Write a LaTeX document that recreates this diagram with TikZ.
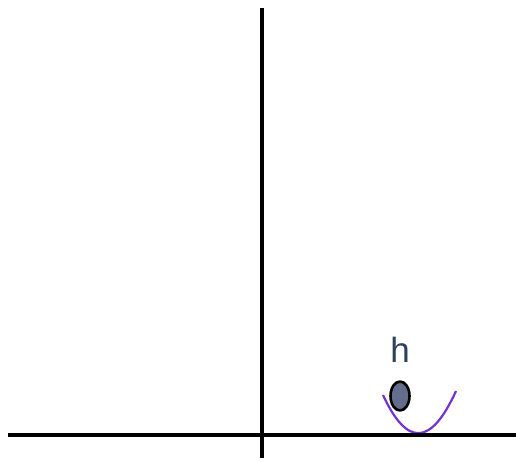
\documentclass[tikz,border=0pt]{standalone}
\usepackage{fontspec}
\setsansfont{Liberation Sans}
\usetikzlibrary{shapes.geometric}
\definecolor{curveviolet}{RGB}{115,50,210}
\definecolor{ballfill}{RGB}{100,110,140}
\definecolor{labelblue}{RGB}{45,65,95}

\begin{document}
\begin{tikzpicture}[x=1pt, y=-1pt, line cap=butt, line join=round]

  %% ==== axes ====
  \coordinate (ytop) at (262,8);
  \coordinate (ybot) at (262,458);
  \coordinate (xleft) at (8,435);
  \coordinate (xright) at (516,435);

  %% ==== well (parabola) ====
  \coordinate (wellL) at (383,395);
  \coordinate (wellR) at (456,391);
  \draw[curveviolet, line width=2.2pt] (wellL) .. controls (407,447) and (431,446) .. (wellR);

  \draw[line width=3.6pt] (ytop) -- (ybot);
  \draw[line width=3.6pt] (xleft) -- (xright);

  %% ==== ball and label ====
  \node[ellipse, draw=black, fill=ballfill, line width=2.6pt, minimum width=19pt, minimum height=29pt, inner sep=0pt] (ball) at (400,396) {};
  \node[anchor=center, inner sep=0pt, text=labelblue, font=\sffamily\fontsize{35}{40}\selectfont] (hlabel) at (400,350) {h};

  \pgfresetboundingbox
  \path[use as bounding box] (0,0) rectangle (516,462);
\end{tikzpicture}
\end{document}
